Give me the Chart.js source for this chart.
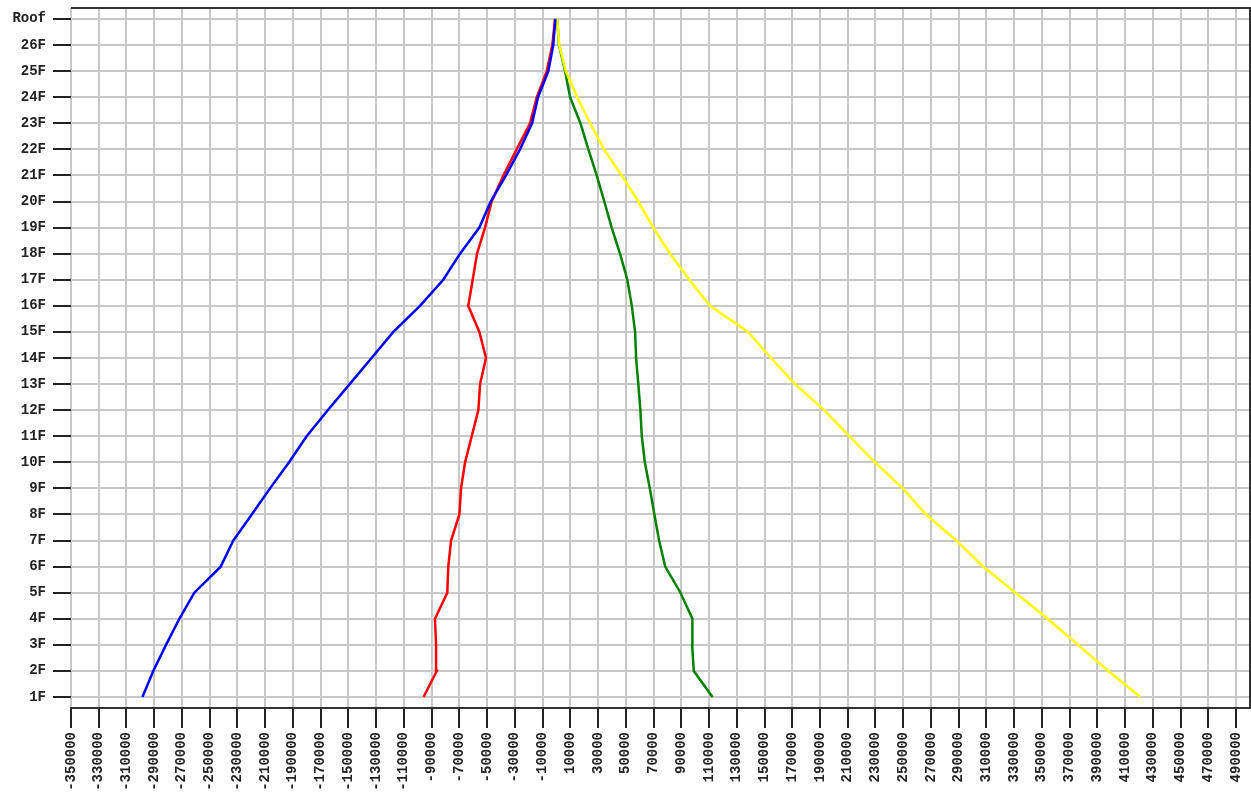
<!DOCTYPE html>
<html><head><meta charset="utf-8">
<script src="https://cdn.jsdelivr.net/npm/chart.js@4/dist/chart.umd.min.js"></script>
<style>html,body{margin:0;padding:0;background:#fff}#wrap{position:relative;width:1251px;height:794px}</style>
</head><body><div id="wrap"><canvas id="c" width="1251" height="794"></canvas></div>
<script>
const floors = ['1F','2F','3F','4F','5F','6F','7F','8F','9F','10F','11F','12F','13F','14F','15F','16F','17F','18F','19F','20F','21F','22F','23F','24F','25F','26F','Roof'];
const xTicks = [-350000,-330000,-310000,-290000,-270000,-250000,-230000,-210000,-190000,-170000,-150000,-130000,-110000,-90000,-70000,-50000,-30000,-10000,10000,30000,50000,70000,90000,110000,130000,150000,170000,190000,210000,230000,250000,270000,290000,310000,330000,350000,370000,390000,410000,430000,450000,470000,490000];
const xMin = -350000;
const xMax = 500000;

const blueSeries   = [-298500,-290700,-281500,-271900,-261100,-242100,-233000,-219700,-206500,-192800,-180100,-164900,-149100,-133300,-117600,-98400,-81600,-69500,-55600,-47400,-36400,-26300,-17600,-13300,-5900,-2300,-800];
const redSeries    = [-95800,-86300,-86800,-87600,-78700,-78000,-76000,-70000,-68800,-65900,-61100,-56300,-55100,-50800,-55600,-63600,-60400,-57300,-51500,-46700,-38300,-28700,-19100,-14200,-7000,-3000,-1000];
const greenSeries  = [112500,99000,97800,98000,89400,78400,74000,70600,67300,63700,61500,60500,59000,57400,56700,54300,51100,45800,39800,34500,29000,23000,17300,9800,6200,1800,500];
const yellowSeries = [421000,397900,376000,354100,330900,307700,288400,266500,249700,229600,211100,193000,172000,154700,138100,110700,95800,81900,69800,59000,47000,34300,24200,15000,6700,2000,500];

function pts(arr){ return arr.map((v,i)=>({x:v, y:i+1})); }
function ds(arr,color){ return {data:pts(arr), borderColor:color, backgroundColor:color, borderWidth:2.5, pointRadius:0, showLine:true, tension:0, fill:false}; }

const frame = {
  id:'frame',
  afterDraw(chart){
    const a = chart.chartArea, ctx = chart.ctx;
    ctx.save();
    ctx.strokeStyle = '#333';
    ctx.lineWidth = 2;
    ctx.beginPath();
    ctx.moveTo(a.left, a.top); ctx.lineTo(a.right, a.top); ctx.lineTo(a.right, a.bottom);
    ctx.stroke();
    ctx.restore();
  }
};

const tickFont = {family:"'Courier New','Liberation Mono',monospace", size:14, weight:'bold'};

new Chart(document.getElementById('c'), {
  type:'scatter',
  data:{ datasets:[ ds(blueSeries,'#0000ff'), ds(yellowSeries,'#ffff00'), ds(redSeries,'#ff0000'), ds(greenSeries,'#008000') ] },
  options:{
    responsive:false, animation:false, devicePixelRatio:1,
    layout:{padding:{top:8,right:1,left:0,bottom:0}},
    plugins:{legend:{display:false}, tooltip:{enabled:false}},
    scales:{
      x:{
        type:'linear', min:xMin, max:xMax,
        afterBuildTicks(scale){ scale.ticks = xTicks.map(v=>({value:v})); },
        afterFit(scale){ scale.height = 86; scale.paddingLeft = 0; scale.paddingRight = 0; },
        grid:{color:'#c8c8c8', lineWidth:2, tickColor:'#222', tickWidth:2, tickLength:20, drawTicks:true},
        border:{display:true, color:'#333', width:2},
        ticks:{autoSkip:false, minRotation:90, maxRotation:90, padding:4, color:'#222', font:tickFont,
               callback:(v)=>String(v)}
      },
      y:{
        type:'linear', min:0.58, max:27.42,
        afterBuildTicks(scale){ scale.ticks = floors.map((f,i)=>({value:i+1})); },
        afterFit(scale){ scale.width = 71; scale.paddingTop = 0; scale.paddingBottom = 0; },
        grid:{color:'#c8c8c8', lineWidth:2, tickColor:'#222', tickWidth:2, tickLength:18, drawTicks:true},
        border:{display:false},
        ticks:{autoSkip:false, padding:7, color:'#222', font:tickFont,
               callback:(v)=>floors[Math.round(v)-1]}
      }
    }
  },
  plugins:[frame]
});
</script></body></html>
